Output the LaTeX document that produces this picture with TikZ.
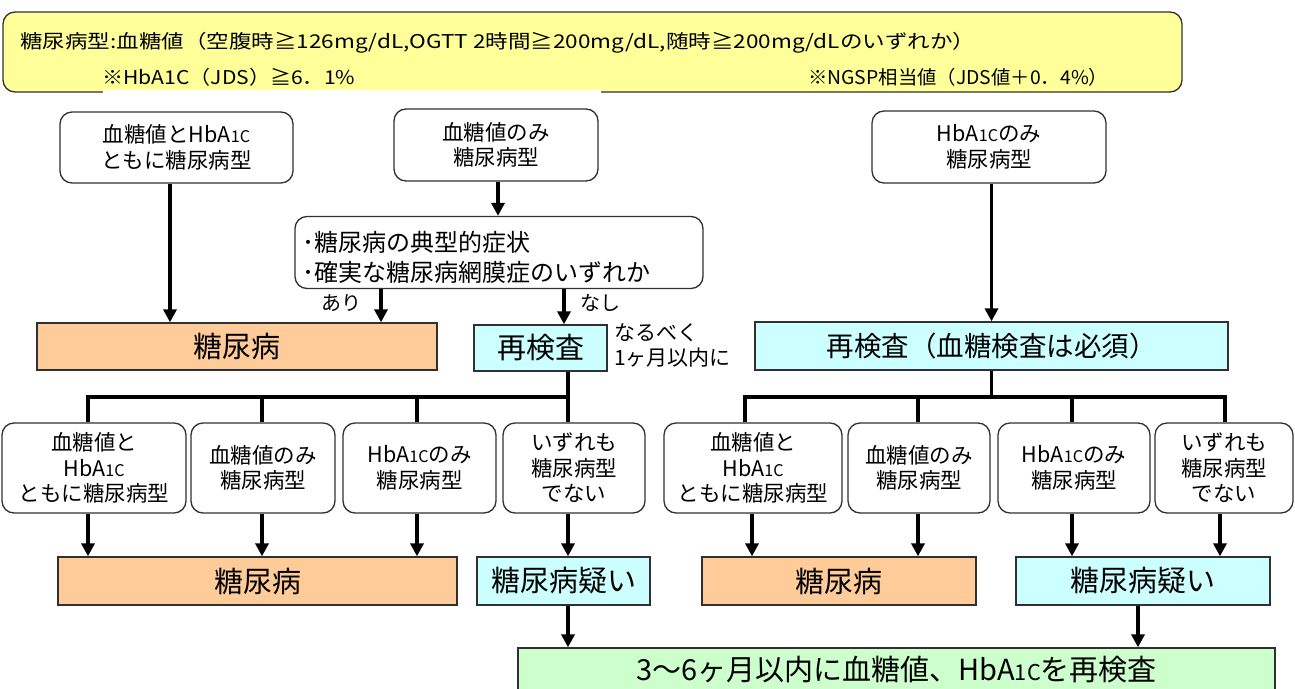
\documentclass[tikz,border=0pt]{standalone}
\usepackage{fontspec}
\usepackage{graphicx}
\setmainfont{Noto Sans CJK JP}
\usetikzlibrary{arrows.meta,calc}
\definecolor{bannerY}{HTML}{FFFF99}
\definecolor{orangeF}{HTML}{FFCC99}
\definecolor{cyanF}{HTML}{CCFFFF}
\definecolor{greenF}{HTML}{CCFFCC}
\definecolor{edgeC}{HTML}{303030}
\newcommand{\hba}{HbA\scalebox{0.75}{1C}}
\newcommand{\fitw}[2]{\resizebox{#1}{\height}{#2}}
\begin{document}
\begin{tikzpicture}[x=1pt,y=-1pt,
  rbox/.style={draw=edgeC, line width=1.3pt, rounded corners=12pt, fill=white, align=center, inner sep=0pt, font=\fontsize{21.5}{25.5}\selectfont},
  sbox/.style={draw=edgeC, line width=1.3pt, align=center, inner sep=0pt, font=\fontsize{29}{32}\selectfont},
  lbl/.style={inner sep=0pt, font=\fontsize{20}{25}\selectfont},
  arr/.style={line width=3.5pt, -{Triangle[width=13pt,length=13pt]}},
  busline/.style={line width=3.5pt},
]
\useasboundingbox (0,0) rectangle (1295,688);

% banner
\node[draw=edgeC, line width=1.3pt, rounded corners=12pt, fill=bannerY, minimum width=1179pt, minimum height=80pt, inner sep=0pt] (banner) at (592.5,52) {};
\node[fill=white, minimum width=498pt, minimum height=5pt, inner sep=0pt] (strip) at (352,92) {};
\node[lbl, anchor=west, font=\fontsize{19}{22}\selectfont] (t1) at (20,43) {\fitw{955pt}{糖尿病型:血糖値（空腹時≧126mg/dL,OGTT 2時間≧200mg/dL,随時≧200mg/dLのいずれか）}};
\node[lbl, anchor=west, font=\fontsize{19}{22}\selectfont] (t2) at (102,77) {\fitw{253pt}{※HbA1C（JDS）≧6．1\%}};
\node[lbl, anchor=west, font=\fontsize{19}{22}\selectfont] (t3) at (808,77) {\fitw{300pt}{※NGSP相当値（JDS値＋0．4\%）}};

% top row
\node[rbox, minimum width=233pt, minimum height=71pt] (A) at (176.5,147.5) {血糖値と\hba\\ともに糖尿病型};
\node[rbox, minimum width=204pt, minimum height=72pt] (B) at (496,145) {血糖値のみ\\糖尿病型};
\node[rbox, minimum width=234pt, minimum height=72pt] (C) at (989,147) {\hba のみ\\糖尿病型};
\node[draw=edgeC, line width=1.3pt, rounded corners=12pt, fill=white, minimum width=408pt, minimum height=72pt, inner sep=0pt] (D) at (499,252.5) {};
\node[lbl, anchor=west, align=left, font=\fontsize{24}{30}\selectfont] (Dt) at (302,257.5) {･糖尿病の典型的症状\\･確実な糖尿病網膜症のいずれか};

\node[sbox, fill=orangeF, minimum width=400pt, minimum height=47pt] (O1) at (237,346.5) {糖尿病};
\node[sbox, fill=cyanF, minimum width=133pt, minimum height=46pt] (Re1) at (540.5,348) {再検査};
\node[sbox, fill=cyanF, minimum width=473pt, minimum height=48pt, font=\fontsize{27.5}{32}\selectfont] (Re2) at (991.5,346) {再検査（血糖検査は必須）};

\node[lbl] (ari) at (341,303) {あり};
\node[lbl] (nashi) at (600,303) {なし};
\node[lbl, anchor=west, align=left, font=\fontsize{21}{25}\selectfont] (soon) at (614,345.5) {なるべく\\1ヶ月以内に};

% second row
\node[rbox, minimum width=184pt, minimum height=90pt] (L1) at (94,468) {血糖値と\\\hba\\ともに糖尿病型};
\node[rbox, minimum width=144pt, minimum height=90pt] (L2) at (263,468) {血糖値のみ\\糖尿病型};
\node[rbox, minimum width=153pt, minimum height=90pt] (L3) at (419.5,468) {\hba のみ\\糖尿病型};
\node[rbox, minimum width=142pt, minimum height=90pt] (L4) at (574,468) {いずれも\\糖尿病型\\でない};
\node[rbox, minimum width=178pt, minimum height=90pt] (R1) at (753,468) {血糖値と\\\hba\\ともに糖尿病型};
\node[rbox, minimum width=142pt, minimum height=90pt] (R2) at (919,468) {血糖値のみ\\糖尿病型};
\node[rbox, minimum width=152pt, minimum height=90pt] (R3) at (1074,468) {\hba のみ\\糖尿病型};
\node[rbox, minimum width=138pt, minimum height=90pt] (R4) at (1224,468) {いずれも\\糖尿病型\\でない};

% bottom row
\node[sbox, fill=orangeF, minimum width=399pt, minimum height=48pt] (O2) at (257.5,581) {糖尿病};
\node[sbox, fill=cyanF, minimum width=173pt, minimum height=48pt] (G1) at (563.5,581) {糖尿病疑い};
\node[sbox, fill=orangeF, minimum width=274pt, minimum height=48pt] (O3) at (839,581) {糖尿病};
\node[sbox, fill=cyanF, minimum width=254pt, minimum height=48pt] (G2) at (1143,581) {糖尿病疑い};
\node[sbox, fill=greenF, minimum width=757pt, minimum height=44pt] (GR) at (896.5,670) {3〜6ヶ月以内に血糖値、\hba を再検査};

% coordinates
\coordinate (xa) at (170,0);
\coordinate (xb) at (498,0);
\coordinate (xc) at (381,0);
\coordinate (xd) at (564,0);
\coordinate (d1) at (88,397);
\coordinate (d2) at (262,397);
\coordinate (d3) at (417,397);
\coordinate (d4) at (568,397);
\coordinate (e1) at (745,397);
\coordinate (e2) at (918,397);
\coordinate (e3) at (1072,397);
\coordinate (e4) at (1225,397);
\coordinate (e0) at (991.5,397);
\coordinate (f1) at (752,0);
\coordinate (f4) at (1220,0);
\coordinate (g2) at (1138,0);

% top arrows
\draw[arr] (A.south -| xa) -- (O1.north -| xa);
\draw[arr] (B.south -| xb) -- (D.north -| xb);
\draw[arr] (D.south -| xc) -- (O1.north -| xc);
\draw[arr] (D.south -| xd) -- (Re1.north -| xd);
\draw[arr] (C.south -| Re2.north) -- (Re2.north);

% left bus
\draw[busline] (L1.north -| d1) -- (d1) -- (d4) -- (L4.north -| d4);
\draw[busline] (Re1.south -| d4) -- (d4);
\draw[busline] (d2) -- (L2.north -| d2);
\draw[busline] (d3) -- (L3.north -| d3);
% right bus
\draw[busline] (R1.north -| e1) -- (e1) -- (e4) -- (R4.north -| e4);
\draw[busline] (Re2.south) -- (e0);
\draw[busline] (e2) -- (R2.north -| e2);
\draw[busline] (e3) -- (R3.north -| e3);

% row arrows
\draw[arr] (L1.south -| d1) -- (O2.north -| d1);
\draw[arr] (L2.south -| d2) -- (O2.north -| d2);
\draw[arr] (L3.south -| d3) -- (O2.north -| d3);
\draw[arr] (L4.south -| d4) -- (G1.north -| d4);
\draw[arr] (R1.south -| f1) -- (O3.north -| f1);
\draw[arr] (R2.south -| e2) -- (O3.north -| e2);
\draw[arr] (R3.south -| e3) -- (G2.north -| e3);
\draw[arr] (R4.south -| f4) -- (G2.north -| f4);

% to green
\draw[arr] (G1.south -| d4) -- (GR.north -| d4);
\draw[arr] (G2.south -| g2) -- (GR.north -| g2);
\end{tikzpicture}
\end{document}
